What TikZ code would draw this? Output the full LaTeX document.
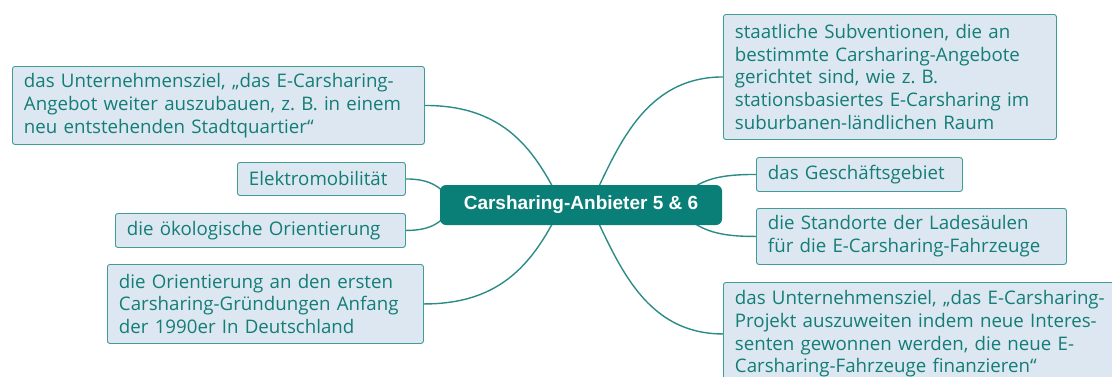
\documentclass[tikz,border=0pt]{standalone}
\usepackage{fontspec}
\setmainfont{Open Sans}
\newfontfamily\centerfont{Liberation Sans}
\usetikzlibrary{calc,backgrounds}
\definecolor{boxfill}{HTML}{DDE7F1}
\definecolor{boxborder}{HTML}{3F9C96}
\definecolor{boxtext}{HTML}{137D77}
\definecolor{rootfill}{HTML}{0A7F78}
\definecolor{linkcol}{HTML}{2A8C85}
\frenchspacing
\tikzset{
  topic/.style={draw=boxborder, fill=boxfill, line width=0.9pt, rounded corners=2.5pt,
    inner xsep=11.5pt, inner ysep=0pt, text=boxtext, align=left, anchor=north west,
    font=\fontsize{18.7}{22.7}\selectfont},
  root/.style={fill=rootfill, rounded corners=6pt, text=white, inner sep=0pt,
    minimum width=282pt, minimum height=40pt, font=\centerfont\bfseries\fontsize{19}{22}\selectfont},
  link/.style={draw=linkcol, line width=1.4pt}
}
\begin{document}
\begin{tikzpicture}[x=1pt,y=-1pt]
\useasboundingbox (0,0) rectangle (1112,376);
\clip (0,0) rectangle (1112,376);
\node[root] (c) at (581,205) {Carsharing-Anbieter 5 \& 6};
\node[topic, text width=389pt, minimum height=78pt] (l1) at (12,66)
  {das Unternehmensziel, „das E-Carsharing-\\Angebot weiter auszubauen, z. B. in einem\\neu entstehenden Stadtquartier“};
\node[topic, text width=145pt, minimum height=33pt] (e) at (237,162) {Elektromobilität};
\node[topic, text width=267pt, minimum height=34pt] (o) at (115,213) {die ökologische Orientierung};
\node[topic, text width=293pt, minimum height=79pt] (l3) at (107,264)
  {die Orientierung an den ersten\\Carsharing-Gründungen Anfang\\der 1990er In Deutschland};
\node[topic, text width=310pt, minimum height=125pt] (r1) at (723,14)
  {staatliche Subventionen, die an\\bestimmte Carsharing-Angebote\\gerichtet sind, wie z. B.\\stationsbasiertes E-Carsharing im\\suburbanen-ländlichen Raum};
\node[topic, text width=183pt, minimum height=34pt] (g) at (756,157) {das Geschäftsgebiet};
\node[topic, text width=287pt, minimum height=56pt] (s) at (756,208)
  {die Standorte der Ladesäulen\\für die E-Carsharing-Fahrzeuge};
\node[topic, text width=382pt, minimum height=103pt] (r3) at (723,282)
  {das Unternehmensziel, „das E-Carsharing-\\Projekt auszuweiten indem neue Interes-\\senten gewonnen werden, die neue E-\\Carsharing-Fahrzeuge finanzieren“};
\coordinate (cl) at ($(c.center)+(-19,0)$);
\coordinate (cr) at ($(c.center)+(9,0)$);
\coordinate (cw) at ($(c.west)+(15,0)$);
\coordinate (ce) at ($(c.east)+(-47,0)$);
\begin{pgfonlayer}{background}
\draw[link] (l1.east) .. controls +(80,0) and +(-27,-55) .. (cl);
\draw[link] (l3.east) .. controls +(80,0) and +(-27,55) .. (cl);
\draw[link] (r1.west) .. controls +(-80,0) and +(27,-55) .. (cr);
\draw[link] (r3.west) .. controls +(-80,0) and +(27,55) .. (cr);
\draw[link] (e.east) .. controls +(25,0) and +(-13,-18) .. (cw);
\draw[link] (o.east) .. controls +(25,0) and +(-13,18) .. (cw);
\draw[link] (g.west) .. controls +(-41,0) and +(20,-25) .. (ce);
\draw[link] (s.west) .. controls +(-41,0) and +(20,25) .. (ce);
\end{pgfonlayer}
\end{tikzpicture}
\end{document}
